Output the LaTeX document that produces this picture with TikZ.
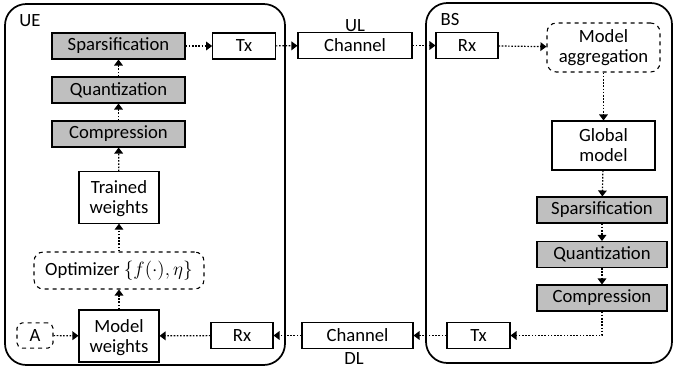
\documentclass[tikz,border=0pt]{standalone}
\usepackage{fontspec}
\setmainfont{Carlito}
\usetikzlibrary{arrows.meta}
\definecolor{procgray}{RGB}{191,191,191}

\begin{document}
\begin{tikzpicture}[
		x=0.75pt, y=-0.75pt,
		font=\fontsize{14}{15}\selectfont,
		group/.style={draw, line width=1.3pt, rounded corners=16pt},
		block/.style={draw, line width=0.8pt, inner sep=1pt, minimum height=19.5pt, align=center},
		proc/.style={block, fill=procgray, minimum width=99.75pt},
		twoline/.style={block, minimum width=60pt, minimum height=38.5pt, text depth=0pt},
		soft/.style={block, dashed, rounded corners=7pt},
		link/.style={line width=0.9pt, dash pattern=on 1.2pt off 1.2pt, -{Triangle[length=4.5pt,width=6.5pt]}}]
		\useasboundingbox (0,0) rectangle (674,371);
		\draw[group] (5,4) rectangle (285,365);
		\draw[group] (426,3) rectangle (672,363);
		\node (uelbl) at (30,21) {UE};
		\node (bslbl) at (450,20) {BS};
		\node (ullbl) at (355,26) {UL};
		\node (dllbl) at (354,359) {DL};
		\node[proc] (spars1) at (118.5,46) {Sparsification};
		\node[proc] (quant1) at (118.5,90) {Quantization};
		\node[proc] (comp1) at (118.5,134) {Compression};
		\node[twoline] (trained) at (119,197.5) {Trained\\weights};
		\node[soft, minimum width=127.5pt, minimum height=27.75pt, inner sep=0pt] (optim) at (119,270.5) {Optimizer $\Big\{f(\cdot),\eta\Big\}$};
		\node[twoline, minimum height=39pt] (model) at (119,336) {Model\\weights};
		\node[soft, minimum width=27pt, minimum height=19pt, rounded corners=4pt] (a) at (35,335.5) {A};
		\node[block, minimum width=47pt] (tx1) at (244,46) {Tx};
		\node[block, minimum width=46.5pt] (rx1) at (242,335.5) {Rx};
		\node[block, minimum width=85.5pt] (chul) at (355,45.5) {Channel};
		\node[block, minimum width=83.25pt] (chdl) at (357.5,335.5) {Channel};
		\node[block, minimum width=46.5pt] (rx2) at (467,45.5) {Rx};
		\node[soft, minimum width=84.75pt, minimum height=36.75pt] (aggr) at (603.5,47.5) {Model\\aggregation};
		\node[twoline, minimum width=77.25pt, minimum height=36.75pt] (global) at (603.5,145.5) {Global\\model};
		\node[proc, minimum width=97.5pt] (spars2) at (602,210) {Sparsification};
		\node[proc, minimum width=97.5pt] (quant2) at (602,254.5) {Quantization};
		\node[proc, minimum width=97.5pt] (comp2) at (602,298) {Compression};
		\node[block, minimum width=47.25pt] (tx2) at (478.5,335.5) {Tx};
		\draw[link] (spars1) to (tx1);
		\draw[link] (tx1) to (chul);
		\draw[link] (chul) to (rx2);
		\draw[link] (rx2) to (aggr);
		\draw[link] (aggr) to (global);
		\draw[link] (global) to (spars2);
		\draw[link] (spars2) to (quant2);
		\draw[link] (quant2) to (comp2);
		\draw[link] (comp2.south) |- (tx2.east);
		\draw[link] (tx2) to (chdl);
		\draw[link] (chdl) to (rx1);
		\draw[link] (rx1) to (model);
		\draw[link] (a) to (model);
		\draw[link] (model) to (optim);
		\draw[link] (optim) to (trained);
		\draw[link] (trained) to (comp1);
		\draw[link] (comp1) to (quant1);
		\draw[link] (quant1) to (spars1);
\end{tikzpicture}
\end{document}
